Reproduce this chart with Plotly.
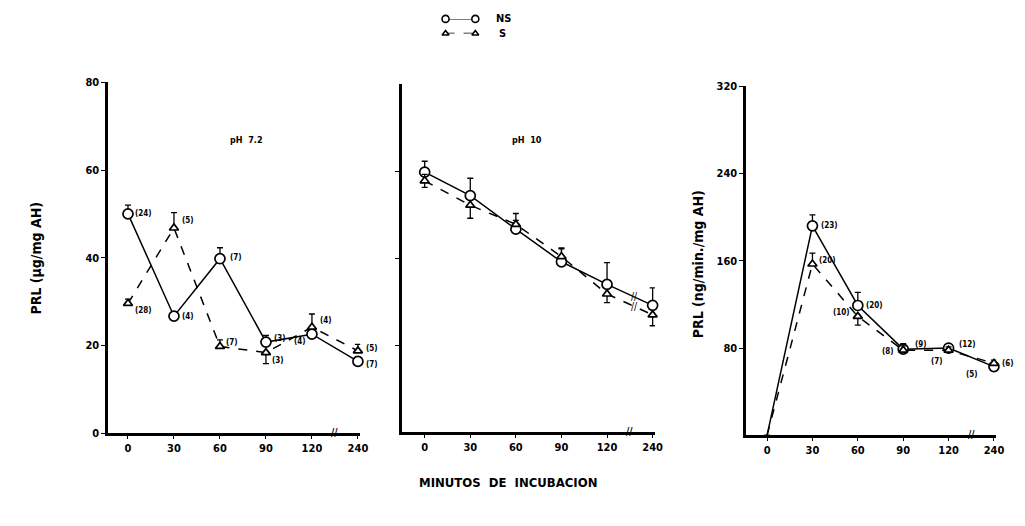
import plotly.graph_objects as go

# ---------------- data ----------------
minutes = ["0", "30", "60", "90", "120", "240"]
xpos = [0, 1, 2, 3, 4, 5]

# Panel 1: pH 7.2  (PRL ug/mg AH)
p1_ns = [50, 26.7, 39.8, 20.8, 22.6, 16.4]
p1_ns_err_up = [2, 0, 2.5, 1.5, 1.5, 1]
p1_ns_err_dn = [0, 0, 0, 0, 0, 0]
p1_ns_n = ["(24)", "(4)", "(7)", "(3)", "(4)", "(7)"]
p1_s = [29.6, 46.8, 19.8, 18.4, 24.2, 18.8]
p1_s_err_up = [1, 3.5, 1.5, 0, 3, 1.5]
p1_s_err_dn = [0, 0, 0, 2.5, 0, 0]
p1_s_n = ["(28)", "(5)", "(7)", "(3)", "(4)", "(5)"]

# Panel 2: pH 10
p2_ns = [59.8, 54.4, 46.7, 39.2, 34.0, 29.2]
p2_ns_err_up = [2.5, 4, 2, 3, 5, 4]
p2_s = [57.8, 52.2, 47.8, 40.4, 31.8, 27.0]
p2_s_err_up = [1.5, 0, 2.5, 2, 0, 0]
p2_s_err_dn = [1.5, 3, 0, 0, 2, 2.5]

# Panel 3: PRL ng/min/mg AH
p3_ns = [0, 192, 119, 79, 80, 63]
p3_ns_err_up = [0, 10, 12, 5, 3, 3]
p3_ns_n = ["", "(23)", "(20)", "(9)", "(12)", "(6)"]
p3_s = [0, 157, 109, 78, 78, 66]
p3_s_err_up = [0, 10, 0, 4, 3, 3]
p3_s_err_dn = [0, 0, 8, 0, 0, 0]
p3_s_n = ["", "(20)", "(10)", "(8)", "(7)", "(5)"]

legend_names = ["NS", "S"]

# ---------------- figure ----------------
FONT = "DejaVu Sans Condensed"
W, H = 1025, 526
OFF = 8  # page body margin
fig = go.Figure()

def px_x(v):
    return (v - OFF) / W

def px_y(v):
    return 1 - (v - OFF) / H

def add_series(ax, y, up, dn, symbol, size, dash, markers_size=None):
    fig.add_trace(go.Scatter(
        x=xpos, y=y, xaxis="x" + ax, yaxis="y" + ax,
        mode="lines+markers",
        line=dict(color="black", width=1.5, dash=dash),
        marker=dict(symbol=symbol, size=markers_size or size, color="white", opacity=1,
                    line=dict(color="black", width=1.7)),
        error_y=dict(type="data", symmetric=False, array=up, arrayminus=dn,
                     color="black", thickness=1.3, width=3),
        showlegend=False, cliponaxis=False))

# panel 1
add_series("", p1_ns, p1_ns_err_up, p1_ns_err_dn, "circle", 10, "solid")
add_series("", p1_s, p1_s_err_up, p1_s_err_dn, "triangle-up", 8, "dash")
# panel 2
add_series("2", p2_ns, p2_ns_err_up, [0] * 6, "circle", 10, "solid")
add_series("2", p2_s, p2_s_err_up, p2_s_err_dn, "triangle-up", 8, "dash")
# panel 3 (no marker at 0)
add_series("3", p3_ns, p3_ns_err_up, [0] * 6, "circle", 10, "solid",
           [0, 10, 10, 10, 10, 10])
add_series("3", p3_s, p3_s_err_up, p3_s_err_dn, "triangle-up", 8, "dash",
           [0, 8, 8, 8, 8, 8])

# legend (mini hidden axis)
for i, name in enumerate(legend_names):
    fig.add_trace(go.Scatter(
        x=[0, 1], y=[1 - i, 1 - i], xaxis="x4", yaxis="y4",
        mode="lines+markers",
        line=dict(color="black", width=1.3, dash="solid" if i == 0 else "dash"),
        marker=dict(symbol="circle" if i == 0 else "triangle-up",
                    size=7 if i == 0 else 6, color="white", opacity=1,
                    line=dict(color="black", width=1.6)),
        showlegend=False, cliponaxis=False))

annotations = []
for i, name in enumerate(legend_names):
    annotations.append(dict(x=px_x(498 + 3 * i), y=px_y(13 + 15 * i), xref="paper", yref="paper",
                            text="<b>" + name + "</b>", yanchor="middle",
                            showarrow=False, xanchor="left",
                            font=dict(family=FONT, size=11, color="black")))

# n labels
def nlabel(ax, idx, yvals, texts, xs=10, ys=0, anchor="left"):
    annotations.append(dict(x=xpos[idx], y=yvals[idx], xref="x" + ax, yref="y" + ax,
                            text="<b>" + texts[idx] + "</b>", showarrow=False, xanchor=anchor,
                            xshift=xs, yshift=ys,
                            font=dict(family=FONT, size=8, color="black")))

# panel 1
nlabel("", 0, p1_ns, p1_ns_n, 5, 0)
nlabel("", 1, p1_ns, p1_ns_n, 6, 0)
nlabel("", 2, p1_ns, p1_ns_n, 8, 1)
nlabel("", 3, p1_ns, p1_ns_n, 6, 4)
nlabel("", 4, p1_ns, p1_ns_n, -4, -7, "right")
nlabel("", 5, p1_ns, p1_ns_n, 6, -3)
nlabel("", 0, p1_s, p1_s_n, 5, -7)
nlabel("", 1, p1_s, p1_s_n, 6, 7)
nlabel("", 2, p1_s, p1_s_n, 4, 4)
nlabel("", 3, p1_s, p1_s_n, 4, -8)
nlabel("", 4, p1_s, p1_s_n, 6, 7)
nlabel("", 5, p1_s, p1_s_n, 6, 2)
# panel 3
nlabel("3", 1, p3_ns, p3_ns_n, 7, 0)
nlabel("3", 2, p3_ns, p3_ns_n, 6, 0)
nlabel("3", 3, p3_ns, p3_ns_n, 10, 5)
nlabel("3", 4, p3_ns, p3_ns_n, 8, 4)
nlabel("3", 5, p3_ns, p3_ns_n, 6, 3)
nlabel("3", 1, p3_s, p3_s_n, 5, 4)
nlabel("3", 2, p3_s, p3_s_n, -6, 4, "right")
nlabel("3", 3, p3_s, p3_s_n, -7, -1, "right")
nlabel("3", 4, p3_s, p3_s_n, -4, -11, "right")
nlabel("3", 5, p3_s, p3_s_n, -14, -11, "right")

# axis break marks on x axes
for ax in ["", "2", "3"]:
    annotations.append(dict(x=4.5, y=0, xref="x" + ax, yref="y" + ax, text="<b>//</b>",
                            showarrow=False, font=dict(family=FONT, size=10, color="black"),
                            yshift=1))
# break marks on data lines of panel 2
for series in (p2_ns, p2_s):
    annotations.append(dict(x=4.6, y=series[4] + (series[5] - series[4]) * 0.6,
                            xref="x2", yref="y2", text="//", showarrow=False,
                            font=dict(family=FONT, size=10, color="black")))

# panel titles
annotations.append(dict(x=px_x(230), y=px_y(137), xref="paper", yref="paper", text="<b>pH  7.2</b>",
                        showarrow=False, yanchor="middle",
                        font=dict(family=FONT, size=9, color="black")))
annotations.append(dict(x=px_x(531), y=px_y(137), xref="paper", yref="paper", text="<b>pH  10</b>",
                        showarrow=False, yanchor="middle",
                        font=dict(family=FONT, size=9, color="black")))

# axis titles
annotations.append(dict(x=px_x(36), y=px_y(258), xref="paper", yref="paper",
                        text="<b>PRL (µg/mg AH)</b>", textangle=-90, showarrow=False,
                        xanchor="center", yanchor="middle",
                        font=dict(family=FONT, size=14, color="black")))
annotations.append(dict(x=px_x(703), y=px_y(265), xref="paper", yref="paper",
                        text="<b>PRL (ng/min./mg AH)</b>", textangle=-90, showarrow=False,
                        xanchor="center", yanchor="middle",
                        font=dict(family=FONT, size=14, color="black")))
annotations.append(dict(x=px_x(512), y=px_y(488), xref="paper", yref="paper",
                        text="<b>MINUTOS  DE  INCUBACION</b>", showarrow=False,
                        yanchor="middle",
                        font=dict(family=FONT, size=13, color="black")))

tickfont = dict(family=FONT, size=11, color="black", weight="bold")
xcommon = dict(tickmode="array", tickvals=xpos, ticktext=minutes, showgrid=False,
               zeroline=False, showline=True, linecolor="black", linewidth=2.5,
               ticks="outside", ticklen=3, tickcolor="black", tickfont=tickfont)
ycommon = dict(showgrid=False, zeroline=False, showline=True, linecolor="black",
               linewidth=2.5, ticks="outside", ticklen=4, tickcolor="black",
               tickfont=tickfont)

fig.update_layout(
    width=W, height=H, paper_bgcolor="white", plot_bgcolor="white",
    margin=dict(l=0, r=0, t=0, b=0),
    xaxis=dict(domain=[px_x(109), px_x(363)], range=[-0.43, 5.05], anchor="y", **xcommon),
    yaxis=dict(domain=[px_y(438), px_y(78)], range=[0, 80], anchor="x",
               tickvals=[0, 20, 40, 60, 80], **ycommon),
    xaxis2=dict(domain=[px_x(405), px_x(660)], range=[-0.5, 5.05], anchor="y2", **xcommon),
    yaxis2=dict(domain=[px_y(437), px_y(80)], range=[0, 80], anchor="x2",
                tickvals=[20, 40, 60], showticklabels=False, **ycommon),
    xaxis3=dict(domain=[px_x(752), px_x(1004)], range=[-0.46, 5.05], anchor="y3", **xcommon),
    yaxis3=dict(domain=[px_y(440), px_y(82)], range=[0, 320], anchor="x3",
                tickvals=[80, 160, 240, 320], **ycommon),
    xaxis4=dict(domain=[px_x(449), px_x(479)], range=[0, 1], visible=False, anchor="y4"),
    yaxis4=dict(domain=[px_y(28), px_y(13)], range=[0, 1], visible=False, anchor="x4"),
    annotations=annotations,
)

fig.write_html("out.html")
